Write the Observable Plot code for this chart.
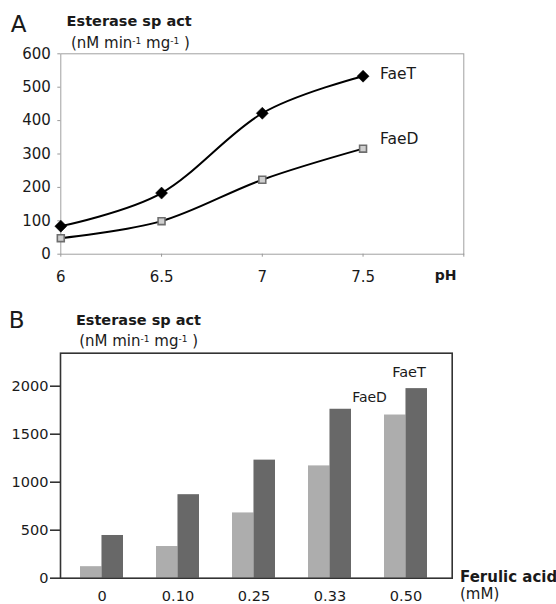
<!DOCTYPE html>
<html>
<head>
<meta charset="utf-8">
<script src="https://cdn.jsdelivr.net/npm/d3@7"></script>
<script src="https://cdn.jsdelivr.net/npm/@observablehq/plot@0.6"></script>
<style>
  html, body { margin: 0; padding: 0; background: #fff; overflow: hidden; }
  #page { position: relative; width: 556px; height: 604px; font-family: "DejaVu Sans", sans-serif; color: #1a1a1a; }
  .t { position: absolute; white-space: nowrap; line-height: 1; }
  .t sup { font-size: 0.6em; vertical-align: 0.5em; line-height: 0; }
  .plot { position: absolute; left: 0; }
</style>
</head>
<body>
<div id="page">
  <div class="t" style="left:10.8px; top:12.5px; font-size:23px;">A</div>
  <div class="t" style="left:66.6px; top:13.7px; font-size:14.5px; font-weight:bold;">Esterase sp act</div>
  <div class="t" style="left:71px; top:36px; font-size:15px;">(nM min<sup>-1</sup> mg<sup>-1</sup> )</div>
  <div class="t" style="left:434.7px; top:268px; font-size:14px; font-weight:bold;">pH</div>

  <div class="t" style="left:8.7px; top:308.5px; font-size:23px;">B</div>
  <div class="t" style="left:75.9px; top:312.7px; font-size:14.5px; font-weight:bold;">Esterase sp act</div>
  <div class="t" style="left:79.2px; top:333.6px; font-size:15px;">(nM min<sup>-1</sup> mg<sup>-1</sup> )</div>
  <div class="t" style="left:460px; top:570px; font-size:15px; font-weight:bold;">Ferulic acid</div>
  <div class="t" style="left:460px; top:586.5px; font-size:15px;">(mM)</div>

  <div id="plotA" class="plot" style="top:0px;"></div>
  <div id="plotB" class="plot" style="top:300px;"></div>
</div>
<script>
// ---- Panel A data ----
const pH = [6, 6.5, 7, 7.5];
const faeT_pH = [84, 183, 422, 533];
const faeD_pH = [48, 99, 223, 316];
const yTicksA = [0, 100, 200, 300, 400, 500, 600];
const xTicksA = [6, 6.5, 7, 7.5, 8];

// ---- Panel B data ----
const ferulic = ["0", "0.10", "0.25", "0.33", "0.50"];
const faeD_fa = [120, 330, 680, 1170, 1700];
const faeT_fa = [445, 870, 1230, 1760, 1975];
const yTicksB = [0, 500, 1000, 1500, 2000];

const seriesNames = ["FaeT", "FaeD"];

const rowsT = pH.map((x, i) => ({x, y: faeT_pH[i]}));
const rowsD = pH.map((x, i) => ({x, y: faeD_pH[i]}));

const font = {fontFamily: "DejaVu Sans, sans-serif", fontSize: "14.5px", color: "#1a1a1a", background: "transparent", overflow: "visible"};

const plotA = Plot.plot({
  width: 556,
  height: 290,
  marginTop: 53.3,
  marginLeft: 60.3,
  marginRight: 92.7,
  marginBottom: 36.3,
  style: font,
  x: {domain: [6, 8]},
  y: {domain: [0, 600]},
  marks: [
    Plot.frame({stroke: "#a0a0a0", strokeWidth: 1}),
    Plot.axisY({ticks: yTicksA, tickSize: 3, tickPadding: 7, stroke: "#999", fill: "#1a1a1a", fontSize: 15, label: null,
      tickFormat: d => String(d)}),
    Plot.axisX({ticks: xTicksA, tickSize: 3, tickPadding: 14, stroke: "#999", fill: "#1a1a1a", fontSize: 15, label: null,
      tickFormat: d => d === 8 ? "" : String(d)}),
    Plot.line(rowsT, {x: "x", y: "y", curve: "cardinal", tension: 0, stroke: "#000", strokeWidth: 2}),
    Plot.line(rowsD, {x: "x", y: "y", curve: "cardinal", tension: 0, stroke: "#000", strokeWidth: 2}),
    Plot.dot(rowsT, {x: "x", y: "y", symbol: "square", rotate: 45, r: 4.8, fill: "#000", stroke: "#000", strokeWidth: 0.5}),
    Plot.dot(rowsD, {x: "x", y: "y", symbol: "square", r: 3.9, fill: "#cfcfcf", stroke: "#6e6e6e", strokeWidth: 1.6}),
    Plot.text([{x: pH[3], y: faeT_pH[3], t: seriesNames[0]}], {x: "x", y: "y", text: "t", textAnchor: "start", dx: 17, dy: -2, fontSize: 15.5, fill: "#1a1a1a"}),
    Plot.text([{x: pH[3], y: faeD_pH[3], t: seriesNames[1]}], {x: "x", y: "y", text: "t", textAnchor: "start", dx: 17, dy: -10, fontSize: 15.5, fill: "#1a1a1a"})
  ]
});
document.getElementById("plotA").appendChild(plotA);

const barsD = ferulic.map((c, i) => ({c, v: faeD_fa[i]}));
const barsT = ferulic.map((c, i) => ({c, v: faeT_fa[i]}));
const bw = 42.95;

const plotB = Plot.plot({
  width: 556,
  height: 304,
  marginTop: 52.7,
  marginLeft: 60,
  marginRight: 104.3,
  marginBottom: 26.3,
  style: font,
  x: {type: "band", domain: ferulic, paddingInner: 0.44, paddingOuter: 0.2736, align: 0.44},
  y: {domain: [0, 2344]},
  marks: [
    Plot.barY(barsD, {x: "c", y: "v", fill: "#adadad", insetRight: bw / 2}),
    Plot.barY(barsT, {x: "c", y: "v", fill: "#686868", insetLeft: bw / 2}),
    Plot.frame({stroke: "#333", strokeWidth: 1.6}),
    Plot.axisY({ticks: yTicksB, tickSize: 10, tickPadding: 2, stroke: "#333", strokeWidth: 1.6, fill: "#1a1a1a", fontSize: 14.5, label: null,
      tickFormat: d => String(d)}),
    Plot.axisX({tickSize: 0, tickPadding: 12.5, fill: "#1a1a1a", fontSize: 14.5, label: null}),
    Plot.text([{c: ferulic[4], v: faeD_fa[4], t: seriesNames[1]}], {x: "c", y: "v", text: "t", dx: -36.5, dy: -18, fontSize: 14, fill: "#1a1a1a"}),
    Plot.text([{c: ferulic[4], v: faeT_fa[4], t: seriesNames[0]}], {x: "c", y: "v", text: "t", dx: 3, dy: -16, fontSize: 14.5, fill: "#1a1a1a"})
  ]
});
document.getElementById("plotB").appendChild(plotB);
</script>
</body>
</html>
